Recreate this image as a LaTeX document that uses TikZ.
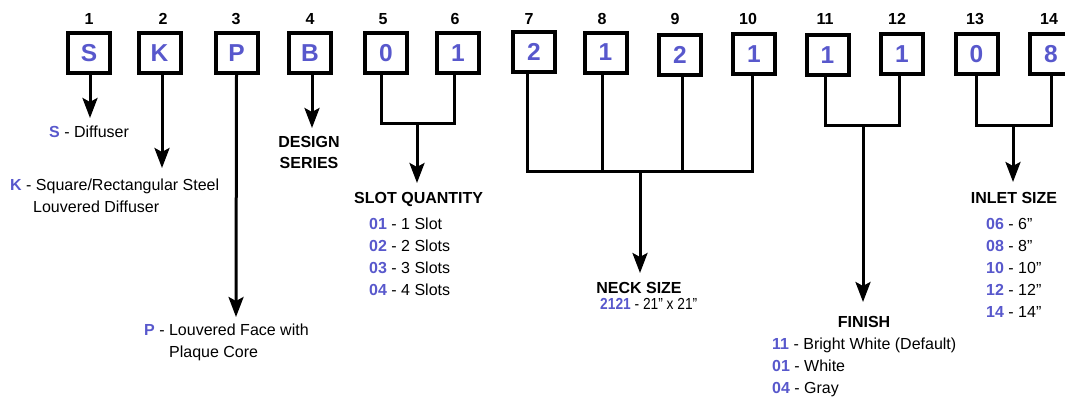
\documentclass[tikz,border=0pt]{standalone}
\usepackage{fontspec}
\usepackage{graphicx}
\setmainfont{Liberation Sans}
\usetikzlibrary{arrows.meta}
\definecolor{codeblue}{RGB}{88,88,204}
\newcommand\kode[1]{{\color{codeblue}\bfseries #1}}
\begin{document}
\begin{tikzpicture}[x=1pt,y=-1pt,
  box/.style={draw, line width=4pt, minimum width=42pt, minimum height=40pt, inner sep=0pt,
    font=\fontsize{24.5}{24}\selectfont\bfseries, text=codeblue},
  num/.style={font=\fontsize{16}{16}\selectfont\bfseries, anchor=base, inner sep=0pt},
  txt/.style={font=\fontsize{16}{16}\selectfont, anchor=base west, inner sep=0pt},
  head/.style={font=\fontsize{16}{16}\selectfont\bfseries, anchor=base, inner sep=0pt},
  conn/.style={line width=3pt, line join=miter},
  arr/.style={line width=3pt, -{Stealth[length=20pt,width=15pt,inset=4pt]}},
]
\path[use as bounding box] (0,0) rectangle (1065,397);

% boxes
\foreach \n/\x/\y/\l in {1/89/53/S, 2/159.5/53/K, 3/236.5/53/P, 4/310/53/B,
  5/386/53/0, 6/458/53/1, 7/534/51.5/2, 8/605.5/52.5/1, 9/680/55/2, 10/754/54/1,
  11/827.5/55/1, 12/902/54/1, 13/976.5/54/0, 14/1051/54/8}
  \node[box] (b\n) at (\x,\y) {\l};

% position numbers
\foreach \n/\x in {1/89, 2/163, 3/236, 4/310, 5/383, 6/455, 7/529, 8/602, 9/675, 10/748,
  11/825, 12/897, 13/975, 14/1049}
  \node[num] (n\n) at (\x,24) {\n};

% label nodes
\node[txt] (ts) at (49,137) {\kode{S} - Diffuser};
\node[txt] (tk) at (10,190) {\kode{K} - Square/Rectangular Steel};
\node[txt] (tk2) at (33,212) {Louvered Diffuser};
\node[txt] (tp) at (144,335) {\kode{P} - Louvered Face with};
\node[txt] (tp2) at (169,357) {Plaque Core};
\node[head] (tb) at (309,147) {DESIGN};
\node[head] (tb2) at (309,168) {SERIES};

\node[head, anchor=base west] (tslot) at (354,203) {SLOT QUANTITY};
\foreach \c/\t [count=\i] in {01/1 Slot, 02/2 Slots, 03/3 Slots, 04/4 Slots}
  \node[txt] (sq\i) at (369, 207+22*\i) {\kode{\c} - \t};

\node[head] (tneck) at (639,293) {NECK SIZE};
\node[txt] (tneck2) at (600,309) {\scalebox{0.86}[1]{\kode{2121} - 21” x 21”}};

\node[head] (tfin) at (864,327) {FINISH};
\foreach \c/\t [count=\i] in {11/Bright White (Default), 01/White, 04/Gray}
  \node[txt] (fi\i) at (772, 326.7+22.3*\i) {\kode{\c} - \t};

\node[head] (tinlet) at (1014,203) {INLET SIZE};
\foreach \c/\t [count=\i] in {06/6”, 08/8”, 10/10”, 12/12”, 14/14”}
  \node[txt] (in\i) at (986, 206.8+22.2*\i) {\kode{\c} - \t};

% tip coordinates
\coordinate (tipS) at (90,118);
\coordinate (tipK) at (162,168);
\coordinate (tipP) at (236,317);
\coordinate (tipB) at (312,128);
\coordinate (jslot) at (417,123);
\coordinate (tipslot) at (417,183);
\coordinate (jneck) at (640,171);
\coordinate (tipneck) at (640,273);
\coordinate (jfin) at (863,125);
\coordinate (tipfin) at (863,302);
\coordinate (jin) at (1013,125);
\coordinate (tipin) at (1013,182);

% simple arrows
\draw[arr] ([xshift=1pt]b1.south) -- (tipS);
\draw[arr] ([xshift=2.5pt]b2.south) -- (tipK);
\draw[arr] (b3.south) -- (tipP);
\draw[arr] ([xshift=2pt]b4.south) -- (tipB);

% slot quantity
\draw[conn] ([xshift=-5pt]b5.south) |- (jslot) -| ([xshift=-4pt]b6.south);
\draw[arr] (jslot) -- (tipslot);

% neck size
\draw[conn] ([xshift=-7pt]b7.south) |- (jneck) -| ([xshift=-2pt]b10.south);
\draw[conn] ([xshift=-3.5pt]b8.south) -- ([xshift=-3.5pt]b8.south |- jneck);
\draw[conn] ([xshift=2pt]b9.south) -- ([xshift=2pt]b9.south |- jneck);
\draw[arr] (jneck) -- (tipneck);

% finish
\draw[conn] ([xshift=-2.5pt]b11.south) |- (jfin) -| ([xshift=-3pt]b12.south);
\draw[arr] (jfin) -- (tipfin);

% inlet size
\draw[conn] (b13.south) |- (jin) -| (b14.south);
\draw[arr] (jin) -- (tipin);
\end{tikzpicture}
\end{document}
